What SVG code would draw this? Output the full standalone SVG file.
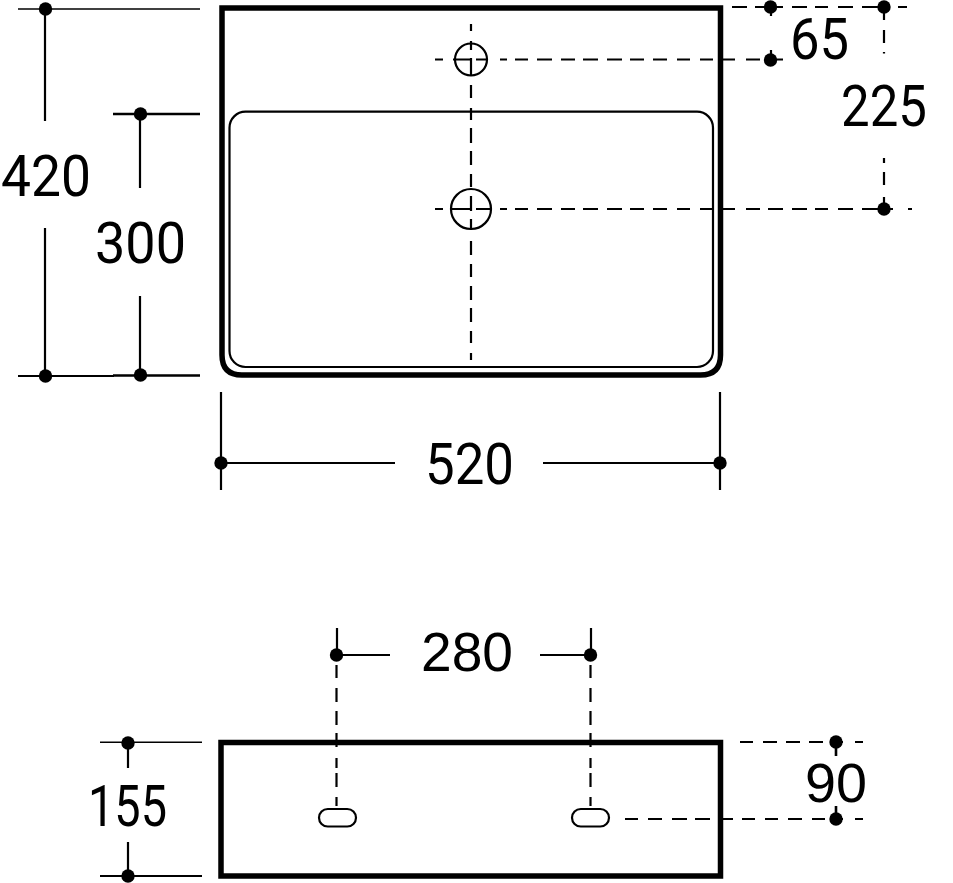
<svg xmlns="http://www.w3.org/2000/svg" width="953" height="883" viewBox="0 0 953 883">
<style>
.l{fill:none;stroke:#000;stroke-width:2.200}
.f{fill:none;stroke:#000;stroke-width:1.600}
.w{fill:none;stroke:#000;stroke-width:2.600}
.d{fill:none;stroke:#000;stroke-width:2.200}
.o{fill:none;stroke:#000;stroke-width:5.500}
.t{fill:none;stroke:#000;stroke-width:2.200}
circle.p{fill:#000;stroke:none}
text{font-family:"Roboto","Liberation Sans",sans-serif;font-size:58px;fill:#000}
text.a{font-family:"Liberation Sans",Arial,sans-serif;font-size:56px}
</style>
<rect width="953" height="883" fill="#fff"/>
<g id="basin-top">
<path class="o" d="M222 8H720.500V355Q720.500 375 700.500 375H242Q222 375 222 355Z"/>
<rect class="t" x="229.500" y="111.700" width="483.500" height="255.300" rx="16"/>
</g>
<g id="tap-hole"><circle class="t" cx="471" cy="59.500" r="16"/></g>
<g id="waste-hole"><circle class="t" cx="471" cy="209" r="20"/></g>
<g id="basin-front"><rect class="o" x="221" y="742.500" width="499.500" height="133.500"/></g>
<g id="slot-left"><rect class="t" x="319" y="809" width="37" height="17.500" rx="8.750"/></g>
<g id="slot-right"><rect class="t" x="572" y="809" width="37" height="17.500" rx="8.750"/></g>
<g id="connectors">
<path class="f" d="M18 9H200"/>
<path class="l" d="M45 9V121M45 228V376M18 376H114M140 114V188M140 296V376"/>
<path class="w" d="M113 114H200M113 375.500H200"/>
<path class="l" d="M221 392V490M720 392V490M221 463H395M543 463H720"/>
<path class="d" d="M471 24V31M471 41V50M471 58V75M471 85V98M471 108V120M471 128V143M471 151V165M471 174V187M471 196V211M471 219V229M471 241V255M471 264V277M471 286V300M471 308V322M471 331V343M471 353V360"/>
<path class="d" d="M435 59.500H443M453 59.500H470M476 59.500H488M500 59.500H507M515 59.500H528M537 59.500H552M561 59.500H575M583 59.500H598M607 59.500H622M630 59.500H644M653 59.500H667M677 59.500H690M700 59.500H713M723 59.500H735M746 59.500H760M768 59.500H783"/>
<path class="d" d="M435 209H443M451 209H470M476 209H491M500 209H507M515 209H528M537 209H552M561 209H575M583 209H598M607 209H622M630 209H644M653 209H667M677 209H690M700 209H713M723 209H735M746 209H760M768 209H783M792 209H807M815 209H828M838 209H853M862 209H893M908 209H912"/>
<path class="d" d="M732 7H747M755 7H783M792 7H807M815 7H828M838 7H853M862 7H890M898 7H907"/>
<path class="d" d="M771 7V16M771 50V60M884 7V20M884 30V43M884 52V53.500M884 158V163M884 172V185M884 197V209"/>
<path class="f" d="M100 742.300H202"/>
<path class="l" d="M100 876H202M128 743V768M128 842V876M337 628V655M591 628V655M337 655H390M540 655H591"/>
<path class="d" d="M336.500 665V678M336.500 688V702M336.500 711V725M336.500 733V747M336.500 758V768M336.500 773V787M336.500 797V806"/>
<path class="d" d="M590.500 665V678M590.500 688V702M590.500 711V725M590.500 733V747M590.500 758V768M590.500 773V787M590.500 797V806"/>
<path class="d" d="M740 742H753M763 742H777M786 742H800M809 742H823M830 742H843M855 742H863"/>
<path class="d" d="M625 819H638M648 819H662M672 819H687M695 819H710M722 819H733M742 819H755M765 819H778M788 819H802M812 819H825M830 819H843M855 819H863"/>
<path class="w" d="M836 742V756M836 806V819"/>
<circle class="p" cx="45.500" cy="9" r="6.700"/><circle class="p" cx="140.500" cy="114" r="6.700"/><circle class="p" cx="45.500" cy="376" r="6.700"/><circle class="p" cx="140.500" cy="375" r="6.700"/>
<circle class="p" cx="221" cy="463" r="6.700"/><circle class="p" cx="720" cy="463" r="6.700"/>
<circle class="p" cx="770.500" cy="7" r="6.700"/><circle class="p" cx="884" cy="7" r="6.700"/><circle class="p" cx="770.500" cy="60" r="6.700"/><circle class="p" cx="884" cy="209" r="6.700"/>
<circle class="p" cx="128" cy="743" r="6.700"/><circle class="p" cx="128" cy="876" r="6.700"/><circle class="p" cx="336.500" cy="655" r="6.700"/><circle class="p" cx="590.500" cy="655" r="6.700"/><circle class="p" cx="836" cy="742" r="6.700"/><circle class="p" cx="836" cy="819" r="6.700"/>
</g>
<g id="labels">
<text x="1" y="196" textLength="90" lengthAdjust="spacingAndGlyphs">420</text>
<text x="95" y="262.500" textLength="91" lengthAdjust="spacingAndGlyphs">300</text>
<text x="425" y="484" textLength="89" lengthAdjust="spacingAndGlyphs">520</text>
<text x="790" y="59" textLength="59" lengthAdjust="spacingAndGlyphs">65</text>
<text x="841" y="126" textLength="86" lengthAdjust="spacingAndGlyphs">225</text>
<text class="a" x="421" y="671" textLength="92" lengthAdjust="spacingAndGlyphs">280</text>
<text x="88" y="826" textLength="79" lengthAdjust="spacingAndGlyphs">155</text>
<text class="a" x="805" y="802" textLength="62" lengthAdjust="spacingAndGlyphs">90</text>
</g>
</svg>
